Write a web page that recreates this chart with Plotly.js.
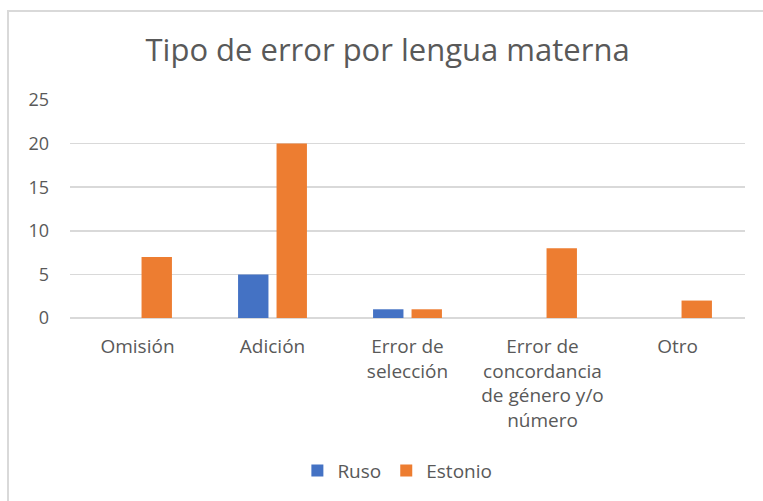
<!DOCTYPE html>
<html>
<head>
<meta charset="utf-8">
<script src="https://cdn.plot.ly/plotly-3.0.1.min.js"></script>
<style>
html,body{margin:0;padding:0;background:#fff;overflow:hidden;}
#frame{position:absolute;left:7px;top:10px;width:800px;height:600px;border-left:2px solid #d9d9d9;border-top:2px solid #d9d9d9;box-sizing:border-box;}
#chart{position:absolute;left:0;top:0;width:763px;height:501px;}
</style>
</head>
<body>
<div id="frame"></div>
<div id="chart"></div>
<script>
var categories = ["Omisión", "Adición", "Error de<br>selección", "Error de<br>concordancia<br>de género y/o<br>número", "Otro"];
var ruso = [0, 5, 1, 0, 0];
var estonio = [7, 20, 1, 8, 2];
var yTicks = [0, 5, 10, 15, 20, 25];

var font = "'Open Sans', 'Segoe UI', sans-serif";
var data = [
  {type: 'bar', name: 'Ruso', x: categories, y: ruso,
   marker: {color: '#4472C4', line: {width: 0}}},
  {type: 'bar', name: 'Estonio', x: categories, y: estonio,
   marker: {color: '#ED7D31', line: {width: 0}}}
];
var layout = {
  width: 763, height: 501,
  paper_bgcolor: 'rgba(0,0,0,0)', plot_bgcolor: 'rgba(0,0,0,0)',
  margin: {l: 70, r: 18, t: 100, b: 179},
  title: {text: 'Tipo de error por lengua materna', x: 0.508, xanchor: 'center', y: 0.90, yanchor: 'middle',
          font: {family: font, size: 31, color: '#595959'}},
  barmode: 'group', bargap: 0.43, bargroupgap: 0.21,
  xaxis: {tickfont: {family: font, size: 19, color: '#595959'}, showgrid: false, zeroline: false,
          showline: false, ticks: '', ticklabelstandoff: 15, fixedrange: true},
  yaxis: {range: [0, 25], tickvals: yTicks, ticktext: yTicks.map(String),
          tickfont: {family: font, size: 18, color: '#595959'},
          gridcolor: '#d9d9d9', gridwidth: 1.5, zeroline: true, zerolinecolor: '#d9d9d9', zerolinewidth: 1.5,
          showline: false, ticks: '', ticklen: 0, ticklabelstandoff: 20, fixedrange: true},
  showlegend: true,
  legend: {orientation: 'h', x: 0.485, xanchor: 'center', y: -0.70, yanchor: 'middle',
           font: {family: font, size: 19, color: '#595959'}, itemwidth: 30, traceorder: 'normal'},
  font: {family: font}
};
Plotly.newPlot('chart', data, layout, {displayModeBar: false, staticPlot: true});
</script>
</body>
</html>
